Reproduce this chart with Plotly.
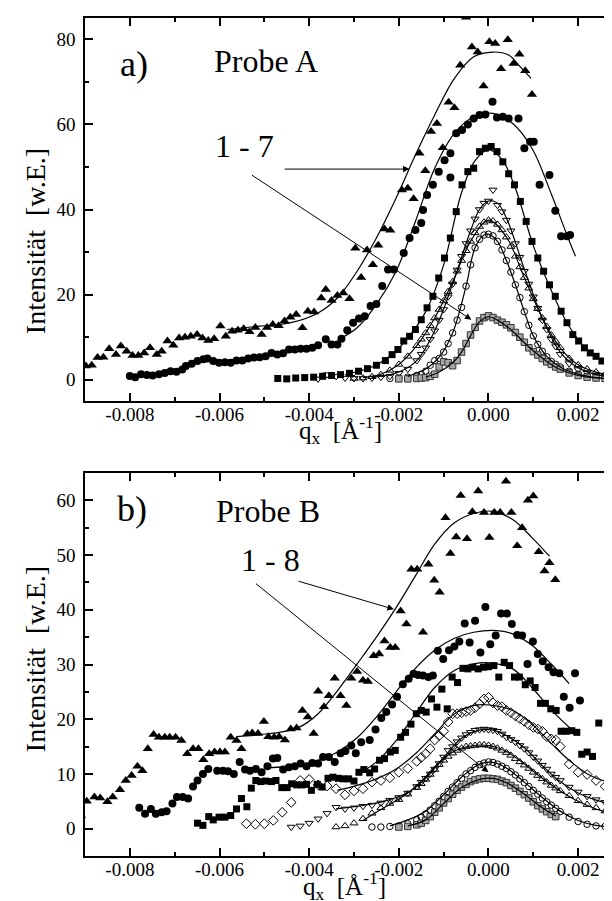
import numpy as np
import plotly.graph_objects as go

# ---------------- data (q_x in units of 1e-3 1/Å) ----------------
# Panel a) Probe A
A1_x = [-9.11,-8.98,-8.85,-8.72,-8.59,-8.46,-8.31,-8.2,-8.07,-7.94,
        -7.81,-7.68,-7.55,-7.4,-7.29,-7.16,-7.03,-6.9,-6.77,-6.64,
        -6.5,-6.38,-6.25,-6.12,-5.98,-5.86,-5.72,-5.59,-5.46,-5.33,
        -5.2,-5.06,-4.94,-4.81,-4.68,-4.55,-4.42,-4.29,-4.15,-4.03,
        -3.89,-3.73,-3.63,-3.5,-3.37,-3.24,-3.1,-2.97,-2.84,-2.71,-2.58,
        -2.46,-2.32,-2.19,-1.93,-1.8,-1.67,-1.54,-1.41,-1.28,-1.15,
        -1.02,-0.89,-0.76,-0.63,-0.5,-0.37,-0.24,-0.11,0.02,0.15,
        0.28,0.43,0.56,0.69,0.82,0.97]
A1_y = [2.6,3.2,3.4,5.2,5.3,7.3,5.9,7.9,6.7,5.7,
        5.7,6.3,7.5,5.9,6.7,9.1,8.1,9.8,10,10.2,
        10.6,9.8,9.2,9.6,12.6,10.2,11.4,11.6,12,11.3,
        12.3,10.6,12.3,13,12.7,13.8,14.7,15.3,12.2,16.1,
        15.9,19.2,21.2,18.6,19.8,20.4,19,30.9,24.0,30.5,27,
        31.6,35.4,35.1,44.6,45,42.5,53.2,49.1,58.3,60.2,
        54.5,65.2,63.9,73.9,85.2,78.2,77,69,79.4,79,
        73.1,79.9,74.3,76.5,72.6,67]

A2_x = [-8.0,-7.88,-7.75,-7.62,-7.49,-7.35,-7.22,-7.09,-6.96,-6.83,
        -6.75,-6.62,-6.49,-6.36,-6.27,-6.14,-6.01,-5.88,-5.75,-5.62,
        -5.49,-5.36,-5.23,-5.1,-4.97,-4.84,-4.71,-4.58,-4.45,-4.32,
        -4.19,-4.06,-3.93,-3.8,-3.63,-3.5,-3.37,-3.28,-3.15,-3.02,
        -2.89,-2.76,-2.63,-2.5,-2.37,-2.24,-2.11,-1.89,-1.76,-1.63,
        -1.5,-1.46,-1.37,-1.24,-1.11,-0.98,-0.85,-0.85,-0.72,-0.59,
        -0.46,-0.33,-0.2,-0.07,0.09,0.19,0.32,0.45,0.67,0.8,
        0.93,1.01,1.14,1.36,1.49,1.62,1.75,1.82]
A2_y = [0.9,0.6,1.3,1.1,1.0,1.3,1.6,2.0,1.9,2.4,
        3.2,3.75,4.4,4.8,5.0,4.4,4.0,4.1,4.0,4.5,
        4.5,5.0,5.2,5.3,5.5,6.3,5.9,6.2,7.1,7.1,
        7.3,7.3,7.5,8.1,9.5,8.3,8.3,9.6,11.6,13.4,
        14.4,14.9,17.3,17.8,22,25.9,25.9,29.8,33.3,35.2,
        36.8,39.9,43.4,45.8,48.9,51.6,53.2,47.5,57.9,58.7,
        60,61.4,62.2,62.3,65.3,61.6,61.8,61.4,61.4,54.4,
        55.9,55.9,45.8,48.1,39.7,33.7,33.7,34]

A3_x = [-4.7,-4.5,-4.3,-4.1,-3.9,-3.7,-3.5,-3.3,-3.1,-2.9,-2.7,-2.5,-2.3,
        -2.15,-2.02,-1.89,-1.76,-1.63,-1.5,-1.37,-1.24,-1.11,-0.98,-0.85,
        -0.72,-0.59,-0.46,-0.33,-0.2,-0.07,
        0.06,0.19,0.32,0.45,0.58,0.71,0.84,0.97,1.1,1.23,1.36,1.49,1.62,
        1.75,1.88,2.01,2.14,2.27,2.4,2.53,2.66,2.79]
A3_y = [0.3,0.2,0.4,0.5,0.6,0.8,1.0,1.2,1.5,2.0,2.6,3.4,4.5,
        5.9,7.1,9.1,10.2,11.8,14.1,16.9,19.6,23.9,28.6,33.3,
        39.5,45.8,48.9,49.7,53.6,54.4,
        54.8,53.6,51.2,48.4,45.8,41.9,37.2,32.5,28.6,25.5,22.3,19.6,16.1,
        13.4,10.6,9.1,7.5,6.3,5.5,4.4,3.2,2.4]

GA = [-3.8,-3.6,-3.4,-3.2,-3.0,-2.8,-2.6,-2.4,-2.2,-2.0,-1.8,-1.6,
      -1.5,-1.4,-1.3,-1.2,-1.1,-1.0,-0.9,-0.8,-0.7,-0.6,-0.5,-0.4,-0.3,-0.2,-0.1,
      0.0,0.1,0.2,0.3,0.4,0.5,0.6,0.7,0.8,0.9,1.0,1.1,1.2,1.3,1.4,1.5,
      1.6,1.8,2.0,2.2,2.4,2.6,2.8]
A4_y = [0.2,1.2,0.8,0.4,0.3,0.3,0.4,0.6,0.8,1.5,2.5,4.5,
        6.0,7.5,9.5,11.5,14.0,16.5,19.5,22.5,25.8,29.0,32.0,35.0,37.8,40.0,41.5,
        42.0,44.6,41.0,39.5,37.5,35.0,32.0,28.8,25.5,22.5,19.5,16.8,14.0,11.8,9.5,7.8,
        6.0,3.8,2.4,1.6,1.1,0.8,0.5]
A5_y = [None,None,None,None,0.3,0.4,0.7,1.2,2.2,3.6,5.5,8.0,
        9.5,11.0,12.7,14.5,16.5,18.5,20.7,23.0,25.5,28.0,30.3,32.5,34.5,36.0,37.0,
        37.5,37.3,36.5,35.2,33.5,31.3,29.0,26.5,24.0,21.5,19.0,16.7,14.5,12.5,10.5,9.0,
        7.5,5.0,3.5,2.5,1.8,1.3,1.0]
A6_y = [None,None,None,None,None,None,None,None,0.3,0.4,0.6,1.0,
        1.3,2.0,3.4,4.5,5.0,6.5,8.5,11.0,14.0,17.0,22.0,27.0,31.0,33.0,34.0,
        34.2,33.8,32.5,30.5,28.0,25.3,22.3,19.3,16.0,12.8,10.3,8.3,6.7,5.4,4.3,3.6,
        3.0,2.0,1.3,0.8,0.5,0.3,0.2]
A7_y = [None,None,None,None,None,None,None,None,None,0.2,0.2,0.3,
        0.4,0.5,0.8,1.3,3.0,4.2,4.0,3.3,4.5,6.5,8.5,10.5,12.3,13.8,14.6,
        15.0,14.6,14.0,13.5,12.9,12.2,11.1,10.0,8.8,7.5,6.6,5.8,5.0,4.2,3.6,3.0,
        2.5,1.6,1.0,0.6,0.4,0.3,0.2]

# fit curves, panel a
FA1_x = [-5.84,-5.1,-4.41,-3.8,-3.37,-2.93,-2.5,-2.06,-1.63,-1.2,-0.76,-0.33,0.1,0.45,0.71,0.95]
FA1_y = [11.8,12.6,13.4,15.7,19.2,25.5,33.3,42.7,52.8,62.2,70.8,75.9,77,76.3,73.5,70.8]
FA2_x = [-3.32,-2.93,-2.5,-2.06,-1.63,-1.2,-0.76,-0.33,0.1,0.54,0.97,1.41,1.75,1.94]
FA2_y = [9.6,12.2,17.7,25.5,37.2,49.7,57.9,61.8,62.6,60.2,54.4,43.4,34,29]
FA3_x = [-3.2,-2.6,-2.2,-1.8,-1.4,-1.0,-0.6,-0.3,0.0,0.3,0.6,1.0,1.4,1.8,2.2,2.6,2.88]
FA3_y = [1.2,3.0,5.5,9.8,16,27,44,51.5,54,51.8,45,31.5,21,12.5,7,4,2.8]
FA4_x = [-2.6,-2.0,-1.6,-1.2,-0.8,-0.4,-0.2,0.0,0.2,0.4,0.8,1.2,1.6,2.0,2.4,2.88]
FA4_y = [0.5,1.8,4.5,11.5,22.5,35,40,42,41.5,38,26,14.5,6.5,2.8,1.2,0.5]
FA5_x = [-2.8,-2.4,-2.0,-1.6,-1.2,-0.8,-0.4,0.0,0.4,0.8,1.2,1.6,2.0,2.4,2.88]
FA5_y = [0.5,1.3,3.6,8.0,14.5,23,32.5,37.5,33.5,24,14.5,7.5,3.5,1.8,0.9]
FA6_x = [-1.8,-1.4,-1.1,-0.8,-0.5,-0.3,-0.1,0.0,0.2,0.4,0.6,0.8,1.0,1.3,1.6,2.0,2.4,2.88]
FA6_y = [0.8,2.5,5.3,11,22,31,34,34.2,32.5,28,22.3,16,10.3,5.5,3.0,1.3,0.5,0.2]
FA7_x = [-1.4,-1.1,-0.8,-0.6,-0.4,-0.2,0.0,0.2,0.4,0.6,0.8,1.0,1.3,1.6,2.0,2.4,2.88]
FA7_y = [0.6,1.8,4.0,6.5,10.3,13.6,14.8,14.0,12.6,10.8,8.7,6.8,4.3,2.4,1.0,0.4,0.2]

# Panel b) Probe B
B1_x = [-9.09,-8.96,-8.79,-8.66,-8.5,-8.38,-8.22,-8.09,-7.96,-7.83,
        -7.72,-7.6,-7.47,-7.35,-7.22,-7.11,-6.98,-6.85,-6.72,-6.59,
        -6.47,-6.36,-6.23,-6.11,-5.99,-5.88,-5.75,-5.62,-5.51,-5.38,
        -5.27,-5.14,-5.01,-4.91,-4.78,-4.67,-4.54,-4.41,-4.28,-4.15,
        -4.03,-3.9,-3.8,-3.67,-3.56,-3.43,-3.3,-3.17,-3.06,-2.93,
        -2.8,-2.69,-2.56,-2.44,-2.32,-2.19,-2.08,-1.96,-1.83,-1.72,
        -1.59,-1.46,-1.34,-1.21,-1.09,-0.96,-0.85,-0.72,-0.62,-0.48,
        -0.36,-0.23,-0.1,0.02,0.13,0.26,0.39,0.51,0.64,0.75,
        0.88,1.0,1.12,1.25,1.36,1.49]
B1_y = [2.4,5.0,5.8,5.6,4.9,5.8,7.1,8.8,9.7,11.4,
        10.6,14.6,17.2,16.7,16.7,16.7,16.7,16.1,13.7,14.6,
        14.6,12.6,13.7,14,14,14,16.7,16.1,14.6,17.3,
        17.5,17.4,19.6,16.8,16.7,16.8,16.2,18.2,18.4,21.6,
        20.4,17.4,25.1,22.3,24.3,27.5,24.3,22.5,27.5,28.7,
        27.1,26.9,31.6,31.9,34.3,33.1,33.1,39.8,37.4,47.4,
        47.4,35.9,48.3,45.4,43.2,56.8,50.3,53.3,60.9,53,
        57.9,61.7,57.8,53.2,57.8,57.8,63.5,57.8,51.7,55,
        60,60.8,50.6,47.1,48.6,45.5]

B2_x = [-7.79,-7.66,-7.53,-7.42,-7.29,-7.18,-7.05,-6.95,-6.82,-6.7,
        -6.59,-6.49,-6.37,-6.25,-6.05,-5.92,-5.81,-5.68,-5.55,-5.43,
        -5.32,-5.19,-5.06,-4.93,-4.81,-4.71,-4.58,-4.45,-4.32,-4.19,
        -4.06,-3.93,-3.8,-3.69,-3.56,-3.43,-3.3,-3.19,-3.06,-2.96,
        -2.84,-2.65,-2.52,-2.39,-2.28,-2.15,-2.04,-1.91,-1.78,-1.67,
        -1.57,-1.46,-1.34,-1.24,-1.13,-1.01,-0.88,-0.76,-0.65,-0.53,
        -0.42,-0.3,-0.18,-0.07,0.04,0.16,0.28,0.41,0.52,0.64,
        0.75,0.87,0.99,1.1,1.21,1.34,1.45,1.58,1.68,1.81,
        1.93,2.04]
B2_y = [3.8,2.7,3.6,2.7,3.0,3.2,4.6,5.8,5.8,5.5,
        7.7,8.8,10,10.9,10.6,10.6,10.5,10,12.2,10.8,
        10.6,10.9,10.3,11.4,12.8,12.9,10.8,11.2,11.4,11.9,
        11.4,12,11.9,13.1,13.1,12.2,13.8,14.2,15.2,13.8,
        15.8,16.2,18.1,20.2,21.3,22.7,24.1,26.4,27.4,28.3,
        28.1,28,27.7,28,32.5,31,32.6,33.3,34.2,37.5,
        34,38,32.2,40.5,33.7,35.3,39.3,39.3,37.4,35.4,
        35.3,30.1,34.2,31.9,30.6,29.5,28.6,28.4,24.1,22.1,
        28.4,23.4]

B3_x = [-6.49,-6.37,-6.24,-6.14,-6.01,-5.88,-5.75,-5.62,-5.51,-5.39,
        -5.29,-5.19,-5.08,-4.97,-4.84,-4.74,-4.61,-4.49,-4.39,-4.28,
        -4.16,-4.06,-3.95,-3.82,-3.71,-3.58,-3.47,-3.35,-3.24,-3.12,
        -3.0,-2.89,-2.78,-2.65,-2.54,-2.43,-2.32,-2.19,-2.08,-1.96,
        -1.85,-1.73,-1.61,-1.5,-1.39,-1.27,-1.15,-1.04,-0.92,-0.81,
        -0.69,-0.57,-0.46,-0.35,-0.23,-0.11,0.0,0.12,0.23,0.35,
        0.47,0.58,0.69,0.82,0.93,1.04,1.16,1.27,1.39,1.51,
        1.62,1.73,1.86,1.97,2.08,2.2,2.32,2.46]
B3_y = [1.0,0.6,2.2,1.6,2.1,2.1,2.4,3.6,5.5,4.0,
        7.4,8.8,8.6,8.7,8.6,8.8,7.5,7.5,8.2,8.0,
        8.0,8.1,7.0,8.1,7.6,9.2,9.4,9.2,9.1,9.1,
        8.7,10.3,10.8,10.2,10.9,12.5,12.8,14,14.3,16.7,
        17.6,19.1,21,21.6,21.3,23.7,22.2,25.5,21.9,27.7,
        26.7,29.3,29.2,29.5,29.2,29.5,29.6,29.8,27.7,30.4,
        29.8,27.7,27.7,26.3,27,25.8,22.9,22.9,21.9,21.6,
        17.8,17.8,17.9,17.6,13.6,14,13.2,19.3]

GB = [-5.4,-5.2,-5.0,-4.8,-4.6,-4.4,-4.2,-4.0,-3.8,-3.6,-3.4,-3.2,-3.0,-2.8,-2.6,-2.4,-2.2,-2.0,-1.8,-1.6,
      -1.5,-1.4,-1.3,-1.2,-1.1,-1.0,-0.9,-0.8,-0.7,-0.6,-0.5,-0.4,-0.3,-0.2,-0.1,
      0.0,0.1,0.2,0.3,0.4,0.5,0.6,0.7,0.8,0.9,1.0,1.1,1.2,1.3,1.4,1.5,
      1.6,1.8,2.0,2.2,2.4,2.6,2.8]
B4_y = [0.9,0.8,0.9,1.5,3.0,4.8,8.8,9.0,8.0,7.8,7.3,6.2,6.9,7.3,8.5,8.8,9.3,10.3,11.0,12.3,
        13.0,13.7,14.6,16.2,17.0,17.8,19.5,21.0,21.0,21.2,21.4,21.6,22.1,22.8,23.7,
        24.0,23.0,22.5,22.3,21.6,21.2,20.6,20.1,19.6,19.0,18.5,18.2,17.8,16.8,16.4,16.2,
        15.0,11.8,10.3,9.9,8.8,7.7,8.8]
B5_y = [None,None,None,None,None,0.3,0.5,1.0,1.8,2.8,3.9,3.6,3.8,4.1,4.3,4.7,5.2,5.7,6.5,7.7,
        8.5,9.2,10.0,10.9,11.9,13.1,14.3,15.0,15.9,16.6,17.2,17.6,18.0,18.1,18.2,
        18.1,18.0,17.8,17.3,16.7,16.3,15.8,15.2,14.6,13.9,13.1,12.4,11.6,10.9,10.0,9.4,
        8.8,7.6,6.7,5.9,5.3,4.8,4.3]
B6_y = [None,None,None,None,None,None,None,None,None,None,0.3,0.5,1.0,1.8,2.8,3.8,4.6,5.3,6.3,7.5,
        8.2,9.0,9.9,10.8,11.7,12.5,13.2,13.8,14.3,14.7,15.0,15.1,15.2,15.3,15.3,
        15.2,15.0,14.7,14.3,13.9,13.4,12.8,12.2,11.6,11.0,10.3,9.7,9.1,8.5,7.9,7.4,
        6.9,6.0,5.1,4.4,3.8,3.2,2.7]
B7_y = [None,None,None,None,None,None,None,None,None,None,None,None,None,None,0.3,0.3,0.4,0.5,0.9,1.6,
        2.1,2.7,3.4,4.2,5.0,5.9,6.8,7.6,8.4,9.2,10.0,10.6,11.2,11.7,12.0,
        12.2,12.1,11.8,11.4,11.0,10.4,9.8,9.1,8.4,7.7,7.0,6.3,5.6,4.9,4.3,3.7,
        3.1,2.1,1.3,0.8,0.5,0.4,0.3]
B8_y = [None,None,None,None,None,None,None,None,None,None,None,None,None,None,None,None,None,0.3,0.4,0.7,
        1.0,1.5,2.2,3.0,3.8,4.7,5.5,6.3,7.0,7.6,8.1,8.6,8.9,9.1,9.2,
        9.2,9.1,9.0,8.7,8.4,7.9,7.4,6.8,6.2,5.6,4.9,4.2,3.6,3.1,2.6,2.2,
        None,None,None,None,None,None,None]

# fit curves, panel b
FB1_x = [-5.62,-5.1,-4.67,-4.23,-3.8,-3.37,-2.93,-2.5,-2.06,-1.63,-1.2,-0.76,-0.33,0.1,0.54,0.97,1.36]
FB1_y = [16.8,17.2,17.6,18.5,21,25.2,30.1,35,40.4,46.2,52,55.9,57.6,58,56.5,53.2,49.8]
FB2_x = [-4.94,-4.23,-3.8,-3.37,-2.93,-2.5,-2.06,-1.63,-1.2,-0.76,-0.33,0.19,0.54,0.97,1.41,1.8]
FB2_y = [11.1,11.6,12.5,14.0,16.6,20.4,25.0,29.3,32.6,34.8,35.9,36.2,35.6,33.5,30.0,26.5]
FB3_x = [-2.89,-2.5,-2.06,-1.63,-1.2,-0.76,-0.33,0.02,0.54,0.97,1.41,1.84]
FB3_y = [10,12.2,16.1,21,25.8,28.9,30.1,30.3,29.2,25.8,21.6,18.2]
FB4_x = [-3.37,-2.93,-2.5,-2.06,-1.63,-1.2,-0.76,-0.33,0.02,0.54,0.97,1.41,1.84,2.27,2.79]
FB4_y = [7,7.9,9.1,10.9,13.7,17.3,21,22.5,22.6,21.6,19.1,15.5,12.2,9.7,8.2]
FB5_x = [-3.4,-3.0,-2.6,-2.2,-1.8,-1.4,-1.0,-0.6,-0.2,0.1,0.4,0.8,1.2,1.6,2.0,2.4,2.88]
FB5_y = [3.6,4.0,4.5,5.3,6.6,9.2,13,16.5,18,18,17,14.8,11.5,8.6,6.5,5.2,4.2]
FB6_x = [-2.8,-2.4,-2.0,-1.6,-1.2,-0.8,-0.4,0.0,0.4,0.8,1.2,1.6,2.0,2.4,2.88]
FB6_y = [1.5,3.5,5.4,7.8,11.2,14,15.1,15.2,14.1,11.8,9.2,6.9,5.0,3.6,2.5]
FB7_x = [-2.2,-1.8,-1.4,-1.0,-0.6,-0.2,0.1,0.4,0.8,1.2,1.6,2.0,2.4,2.88]
FB7_y = [0.5,1.6,3.2,6.2,9.4,11.8,12.1,11.1,8.5,5.7,3.2,1.5,0.6,0.3]
FB8_x = [-1.8,-1.4,-1.0,-0.6,-0.2,0.1,0.4,0.8,1.2,1.5]
FB8_y = [0.5,1.6,4.6,7.5,9.0,9.2,8.4,6.3,3.8,2.3]

# tick labels
X_TICKS = [-0.008, -0.006, -0.004, -0.002, 0.0, 0.002]
X_TICKTEXT = ["-0.008", "-0.006", "-0.004", "-0.002", "0.000", "0.002"]
X_MINOR = [-0.007, -0.005, -0.003, -0.001, 0.001]
YA_TICKS = [0, 20, 40, 60, 80]
YA_MINOR = [10, 30, 50, 70]
YB_TICKS = [0, 10, 20, 30, 40, 50, 60]
YB_MINOR = [5, 15, 25, 35, 45, 55]

for xs, ys in [(A1_x, A1_y), (A2_x, A2_y), (A3_x, A3_y), (B1_x, B1_y), (B2_x, B2_y), (B3_x, B3_y)]:
    assert len(xs) == len(ys)
for ys in [A4_y, A5_y, A6_y, A7_y]:
    assert len(ys) == len(GA)
for ys in [B4_y, B5_y, B6_y, B7_y, B8_y]:
    assert len(ys) == len(GB)

def q(v):
    return np.array(v, dtype=float) * 1e-3

# ---------------- figure ----------------
FONT = "Liberation Serif"
W, H = 612, 901
ML, MR, MT, MB = 77, 0, 10, 53
PW, PH = W - ML - MR, H - MT - MB

def px(X):
    return (X - ML) / PW

def py(Y):
    return (H - MB - Y) / PH

fig = go.Figure()

def scatter(xs, ys, axis, symbol, size, color="black", line_color="black", lw=0):
    fig.add_trace(go.Scatter(
        x=q(xs), y=list(ys), mode="markers", xaxis="x" if axis == 1 else "x2",
        yaxis="y" if axis == 1 else "y2", showlegend=False, cliponaxis=True,
        marker=dict(symbol=symbol, size=size, color=color,
                    line=dict(color=line_color, width=lw))))

def fit(xs, ys, axis):
    fig.add_trace(go.Scatter(
        x=q(xs), y=ys, mode="lines", xaxis="x" if axis == 1 else "x2",
        yaxis="y" if axis == 1 else "y2", showlegend=False,
        line=dict(color="black", width=1.2, shape="spline", smoothing=1.0)))

# panel a
scatter(A1_x, A1_y, 1, "triangle-up", 9)
scatter(A2_x, A2_y, 1, "circle", 8)
scatter(A3_x, A3_y, 1, "square", 7)
scatter(GA, A4_y, 1, "triangle-down-open", 7, lw=1)
scatter(GA, A5_y, 1, "triangle-up-open", 7, lw=1)
scatter(GA, A6_y, 1, "circle-open", 6.5, lw=1)
scatter(GA, A7_y, 1, "square", 6.5, color="#a8a8a8", line_color="#333333", lw=1)
for fx, fy in [(FA1_x, FA1_y), (FA2_x, FA2_y), (FA3_x, FA3_y), (FA4_x, FA4_y),
               (FA5_x, FA5_y), (FA6_x, FA6_y), (FA7_x, FA7_y)]:
    fit(fx, fy, 1)

# panel b
scatter(B1_x, B1_y, 2, "triangle-up", 9)
scatter(B2_x, B2_y, 2, "circle", 8)
scatter(B3_x, B3_y, 2, "square", 7)
scatter(GB, B4_y, 2, "diamond-open", 7.5, lw=1)
scatter(GB, B5_y, 2, "triangle-down-open", 7, lw=1)
scatter(GB, B6_y, 2, "triangle-up-open", 7, lw=1)
scatter(GB, B7_y, 2, "circle-open", 6.5, lw=1)
scatter(GB, B8_y, 2, "square", 6.5, color="#a8a8a8", line_color="#333333", lw=1)
for fx, fy in [(FB1_x, FB1_y), (FB2_x, FB2_y), (FB3_x, FB3_y), (FB4_x, FB4_y),
               (FB5_x, FB5_y), (FB6_x, FB6_y), (FB7_x, FB7_y), (FB8_x, FB8_y)]:
    fit(fx, fy, 2)

xrange_ = [-0.009, -0.009 + PW / 45.0 * 1e-3]

def xaxis(anchor):
    return dict(range=xrange_, domain=[0, 1], anchor=anchor,
                showline=True, linecolor="black", linewidth=1.5, mirror="ticks",
                ticks="inside", ticklen=8, tickwidth=1.5, tickcolor="black",
                tickvals=X_TICKS, ticktext=X_TICKTEXT, ticklabelstandoff=-5,
                minor=dict(tickvals=X_MINOR, ticks="inside", ticklen=4, tickwidth=1.5, tickcolor="black"),
                showgrid=False, zeroline=False,
                tickfont=dict(family=FONT, size=19, color="black"))

def yaxis(anchor, rng, dom, tv, mv):
    return dict(range=rng, domain=dom, anchor=anchor,
                showline=True, linecolor="black", linewidth=1.5, mirror="ticks",
                ticks="inside", ticklen=8, tickwidth=1.5, tickcolor="black",
                tickvals=tv, ticklabelstandoff=4,
                minor=dict(tickvals=mv, ticks="inside", ticklen=4, tickwidth=1.5, tickcolor="black"),
                showgrid=False, zeroline=False,
                tickfont=dict(family=FONT, size=19, color="black"))

dom_a = [py(393), 1.0]
dom_b = [0.0, py(465)]

fig.update_layout(
    width=W, height=H, margin=dict(l=ML, r=MR, t=MT, b=MB),
    paper_bgcolor="white", plot_bgcolor="white",
    font=dict(family=FONT, color="black"),
    xaxis=xaxis("y"), yaxis=yaxis("x", [-5, 85], dom_a, YA_TICKS, YA_MINOR),
    xaxis2=xaxis("y2"), yaxis2=yaxis("x2", [-5, 65], dom_b, YB_TICKS, YB_MINOR),
)

ann = []
def text(X, Y, s, size, angle=0):
    ann.append(dict(x=px(X), y=py(Y), xref="paper", yref="paper", text=s,
                    showarrow=False, xanchor="center", yanchor="middle", textangle=angle,
                    font=dict(family=FONT, size=size, color="black")))

text(126, 56, "a)", 36)
text(259, 53, "Probe A", 32)
text(237, 138, "1 - 7", 32)
text(124, 501, "b)", 36)
text(261, 503, "Probe B", 32)
text(263, 552, "1 - 8", 32)
text(333, 422, "q<sub>x</sub>  [Å<sup>-1</sup>]", 25)
text(337, 878, "q<sub>x</sub>  [Å<sup>-1</sup>]", 25)
text(27, 233, "Intensität  [w.E.]", 28, -90)
text(27, 651, "Intensität  [w.E.]", 28, -90)

def arrow(xr, yr, tail, tip):
    ann.append(dict(x=tip[0] * 1e-3, y=tip[1], ax=tail[0] * 1e-3, ay=tail[1],
                    xref=xr, yref=yr, axref=xr, ayref=yr, text="",
                    showarrow=True, arrowhead=2, arrowsize=1.3, arrowwidth=1,
                    arrowcolor="black", standoff=0))

arrow("x", "y", (-4.58, 49.5), (-1.76, 49.5))
arrow("x", "y", (-5.31, 48.3), (-0.38, 14.1))
arrow("x2", "y2", (-4.27, 45.3), (-2.11, 40.1))
arrow("x2", "y2", (-5.22, 45.0), (0.0, 10.3))

fig.update_layout(annotations=ann)
fig.write_html("out.html")
